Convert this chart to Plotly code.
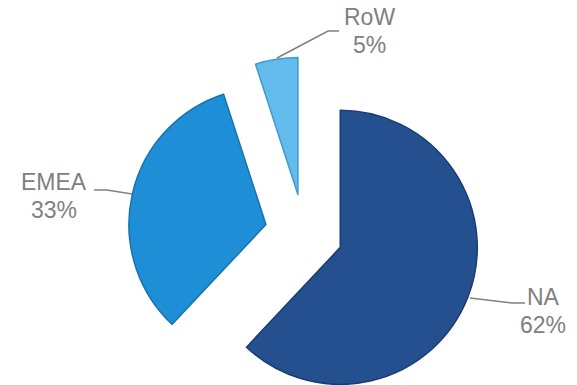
import math
import plotly.graph_objects as go

# ---- data ----
labels = ["NA", "EMEA", "RoW"]
values = [62, 33, 5]
colors = ["#25508F", "#1E8FD6", "#63BCEC"]
rim_colors = ["#1A3C6E", "#1673AE", "#3E9AD0"]

# ---- layout constants (pixels) ----
W, H = 577, 385
CX, CY = 304, 233      # common pie centre
R = 137                # slice radius
PULL = 39              # explode distance

label_pos = {"NA": (543, 311), "EMEA": (54, 196), "RoW": (369, 31)}
leaders = {
    "NA": [(470, 298), (512, 303), (525, 303)],
    "EMEA": [(132, 194), (107, 190), (94, 190)],
    "RoW": [(277, 58), (328, 31), (339, 31)],
}

fig = go.Figure()
total = sum(values)
start = 0.0
for i, (lab, val) in enumerate(zip(labels, values)):
    frac = val / total
    mid = (start + frac / 2) * 2 * math.pi  # clockwise from 12 o'clock
    start += frac
    cx = CX + PULL * math.sin(mid)
    cy = CY - PULL * math.cos(mid)
    dx0 = max(0, (cx - R) / W)
    dx1 = min(1, (cx + R) / W)
    dy0 = max(0, 1 - (cy + R) / H)
    dy1 = min(1, 1 - (cy - R) / H)
    cols = ["rgba(0,0,0,0)"] * len(values)
    cols[i] = colors[i]
    lcols = ["rgba(0,0,0,0)"] * len(values)
    lcols[i] = rim_colors[i]
    lw = [0] * len(values)
    lw[i] = 1.5
    fig.add_trace(go.Pie(
        labels=labels, values=values, sort=False, direction="clockwise",
        rotation=0, domain=dict(x=[dx0, dx1], y=[dy0, dy1]),
        marker=dict(colors=cols, line=dict(color=lcols, width=lw)),
        textinfo="none", hoverinfo="skip", showlegend=False,
    ))

font = dict(family="Liberation Sans, Arial, sans-serif", size=23, color="#808080")
for lab, val in zip(labels, values):
    x, y = label_pos[lab]
    for txt, yy in ((lab, y - 14), (f"{val}%", y + 14)):
        fig.add_annotation(x=x / W, y=1 - yy / H, xref="paper", yref="paper",
                           xanchor="center", yanchor="middle",
                           text=txt, showarrow=False, font=font)
    pts = leaders[lab]
    path = "M " + " L ".join(f"{px / W},{1 - py / H}" for px, py in pts)
    fig.add_shape(type="path", path=path, xref="paper", yref="paper",
                  line=dict(color="#808080", width=1.5))

fig.update_layout(width=W, height=H, margin=dict(l=0, r=0, t=0, b=0),
                  paper_bgcolor="white", plot_bgcolor="white")
fig.write_html("out.html", config={"displayModeBar": False},
               post_script="document.body.style.margin='0';document.body.style.overflow='hidden';")
